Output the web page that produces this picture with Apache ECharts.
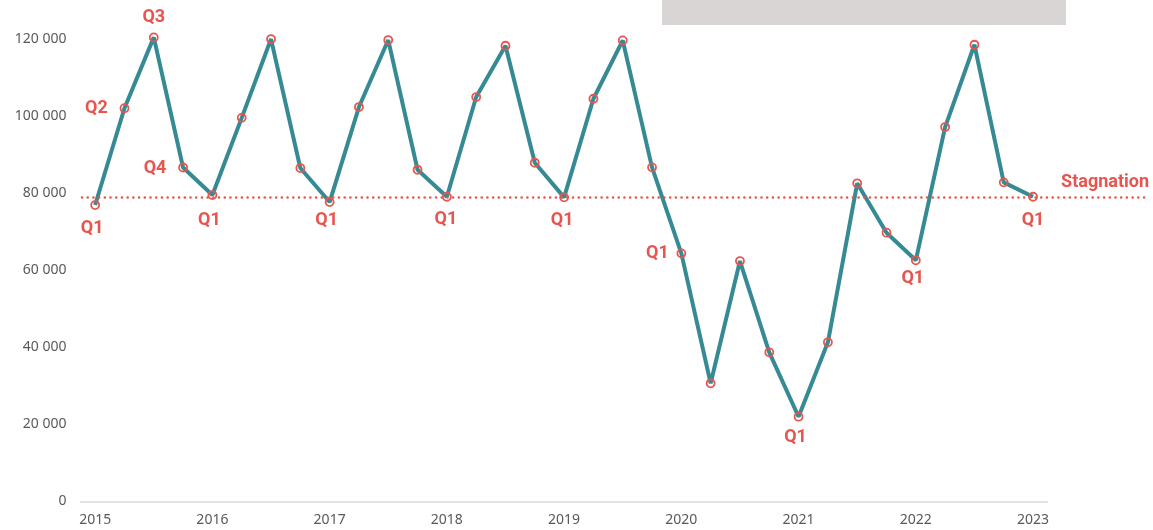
<!DOCTYPE html>
<html>
<head>
<meta charset="utf-8">
<script src="https://cdn.jsdelivr.net/npm/echarts@6/dist/echarts.min.js"></script>
<style>
  html, body { margin: 0; padding: 0; background: #fff; }
  #chart { width: 1153px; height: 530px; }
</style>
</head>
<body>
<div id="chart"></div>
<script>
// quarters 2015 Q1 .. 2023 Q1
const years = ['2015', '2016', '2017', '2018', '2019', '2020', '2021', '2022', '2023']
const quarters = ['Q1', 'Q2', 'Q3', 'Q4']
const values = [
  76950, 102100, 120500, 86700,
  79550, 99600, 120060, 86560,
  77730, 102400, 119800, 86120,
  79100, 105000, 118320, 87940,
  78950, 104560, 119720, 86740,
  64400, 30650, 62400, 38700,
  21970, 41290, 82600, 69760,
  62590, 97200, 118580, 82840,
  79100
]
const stagnation = 79100
const yTicks = [0, 20000, 40000, 60000, 80000, 100000, 120000]

// which points get a quarter label: [index, dx, dy]
const notes = [
  [0, -3, 23], [1, -28, 0], [2, 0, -20], [3, -28, 1],
  [4, -3, 25], [8, -3, 18], [12, -1, 23], [16, -2, 23],
  [20, -24, 0], [24, -3, 21], [28, -3, 18], [32, 0, 24]
]

const RED = '#e8554e'
const TEAL = '#368a94'
const GREY = '#595959'

const categories = []
years.forEach((y) => {
  quarters.forEach((q) => {
    if (categories.length < values.length) categories.push(y + ' ' + q)
  })
})

const seriesData = values.map((v, i) => {
  const n = notes.find((a) => a[0] === i)
  if (!n) return v
  return {
    value: v,
    label: {
      show: true,
      formatter: categories[i].split(' ')[1],
      offset: [n[1], n[2]]
    }
  }
})

const fmt = (v) => String(v).replace(/\B(?=(\d{3})+(?!\d))/g, ' ')

const chart = echarts.init(document.getElementById('chart'))
chart.setOption({
  animation: false,
  graphic: [
    { type: 'rect', shape: { x: 662, y: 0, width: 404, height: 25 }, style: { fill: '#d9d5d4' }, z: 0 }
  ],
  grid: [
    { left: 80.5, right: 105.3, top: 39.3, bottom: 28.7 },
    { left: 82, right: 4, top: 39.3, bottom: 28.7 }
  ],
  xAxis: [
    {
      type: 'category',
      gridIndex: 0,
      data: categories,
      boundaryGap: true,
      axisLine: { lineStyle: { color: '#d9d9d9', width: 1.5 } },
      axisTick: { show: false },
      axisLabel: {
        interval: 3,
        color: GREY,
        fontFamily: 'Noto Sans',
        fontSize: 14,
        margin: 12,
        formatter: (v) => v.split(' ')[0]
      }
    },
    { type: 'value', gridIndex: 1, min: 0, max: 1, show: false }
  ],
  yAxis: [
    {
      type: 'value',
      gridIndex: 0,
      min: yTicks[0],
      max: yTicks[yTicks.length - 1],
      interval: yTicks[1] - yTicks[0],
      splitLine: { show: false },
      axisLine: { show: false },
      axisTick: { show: false },
      axisLabel: {
        color: GREY,
        fontFamily: 'Noto Sans',
        fontSize: 14,
        margin: 14,
        formatter: fmt
      }
    },
    {
      type: 'value',
      gridIndex: 1,
      min: yTicks[0],
      max: yTicks[yTicks.length - 1],
      show: false
    }
  ],
  series: [
    {
      type: 'line',
      xAxisIndex: 1,
      yAxisIndex: 1,
      data: [],
      silent: true,
      markLine: {
        symbol: 'none',
        silent: true,
        lineStyle: { color: RED, width: 2.6, type: [0.01, 5.7], cap: 'round' },
        label: {
          position: 'insideEndTop',
          formatter: 'Stagnation',
          color: RED,
          fontFamily: 'Roboto',
          fontWeight: 'bold',
          fontSize: 18,
          distance: [0, 5]
        },
        data: [{ yAxis: stagnation }]
      }
    },
    {
      type: 'line',
      xAxisIndex: 0,
      yAxisIndex: 0,
      data: seriesData,
      clip: false,
      z: 3,
      symbol: 'circle',
      symbolSize: 8,
      lineStyle: { color: TEAL, width: 4 },
      itemStyle: { color: 'rgba(0,0,0,0)', borderColor: RED, borderWidth: 1.8 },
      label: {
        show: false,
        position: 'inside',
        color: RED,
        fontFamily: 'Roboto',
        fontWeight: 'bold',
        fontSize: 18
      }
    }
  ]
})
</script>
</body>
</html>
